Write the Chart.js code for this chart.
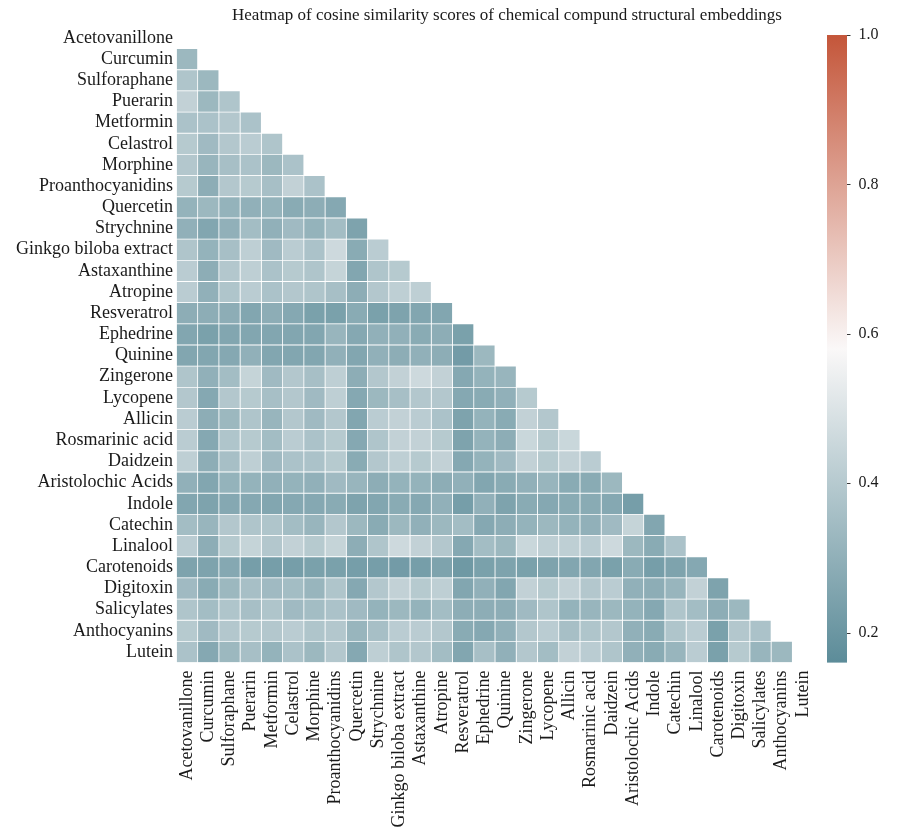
<!DOCTYPE html>
<html>
<head>
<meta charset="utf-8">
<script src="https://cdn.jsdelivr.net/npm/chart.js@4.4.1/dist/chart.umd.min.js"></script>
<style>
  html, body { margin: 0; padding: 0; background: #ffffff; }
  #wrap { width: 911px; height: 835px; }
</style>
</head>
<body>
<div id="wrap"><canvas id="heat" width="911" height="835"></canvas></div>
<script>
// Compound names (rows top-to-bottom, columns left-to-right)
const compounds = [
  "Acetovanillone", "Curcumin", "Sulforaphane", "Puerarin", "Metformin",
  "Celastrol", "Morphine", "Proanthocyanidins", "Quercetin", "Strychnine",
  "Ginkgo biloba extract", "Astaxanthine", "Atropine", "Resveratrol", "Ephedrine",
  "Quinine", "Zingerone", "Lycopene", "Allicin", "Rosmarinic acid",
  "Daidzein", "Aristolochic Acids", "Indole", "Catechin", "Linalool",
  "Carotenoids", "Digitoxin", "Salicylates", "Anthocyanins", "Lutein"
];

// Lower-triangle cosine similarities: each row holds the scores
// against the compounds listed before it.
const simCurcumin          = [0.33];
const simSulforaphane      = [0.38, 0.33];
const simPuerarin          = [0.43, 0.33, 0.38];
const simMetformin         = [0.37, 0.37, 0.39, 0.37];
const simCelastrol         = [0.40, 0.34, 0.39, 0.41, 0.38];
const simMorphine          = [0.39, 0.32, 0.36, 0.37, 0.33, 0.37];
const simProanthocyanidins = [0.40, 0.29, 0.39, 0.40, 0.36, 0.43, 0.37];
const simQuercetin         = [0.31, 0.33, 0.31, 0.30, 0.31, 0.28, 0.29, 0.27];
const simStrychnine        = [0.30, 0.26, 0.30, 0.35, 0.30, 0.34, 0.31, 0.35, 0.25];
const simGinkgo            = [0.38, 0.31, 0.36, 0.42, 0.34, 0.41, 0.37, 0.46, 0.28, 0.41];
const simAstaxanthine      = [0.41, 0.29, 0.39, 0.42, 0.37, 0.40, 0.38, 0.44, 0.26, 0.38, 0.40];
const simAtropine          = [0.41, 0.30, 0.38, 0.41, 0.37, 0.39, 0.38, 0.36, 0.29, 0.39, 0.42, 0.42];
const simResveratrol       = [0.29, 0.29, 0.29, 0.26, 0.29, 0.27, 0.24, 0.24, 0.28, 0.24, 0.25, 0.26, 0.26];
const simEphedrine         = [0.26, 0.24, 0.26, 0.26, 0.26, 0.26, 0.26, 0.32, 0.27, 0.30, 0.30, 0.28, 0.29, 0.24];
const simQuinine           = [0.26, 0.26, 0.27, 0.30, 0.26, 0.26, 0.26, 0.30, 0.26, 0.30, 0.29, 0.30, 0.29, 0.22, 0.33];
const simZingerone         = [0.38, 0.30, 0.35, 0.44, 0.34, 0.39, 0.36, 0.42, 0.29, 0.39, 0.43, 0.46, 0.43, 0.27, 0.31, 0.32];
const simLycopene          = [0.39, 0.27, 0.39, 0.40, 0.36, 0.39, 0.34, 0.42, 0.27, 0.33, 0.36, 0.39, 0.39, 0.27, 0.28, 0.30, 0.40];
const simAllicin           = [0.41, 0.29, 0.33, 0.38, 0.32, 0.39, 0.34, 0.39, 0.26, 0.41, 0.43, 0.41, 0.37, 0.25, 0.31, 0.28, 0.43, 0.39];
const simRosmarinicAcid    = [0.41, 0.27, 0.38, 0.40, 0.35, 0.41, 0.37, 0.40, 0.27, 0.38, 0.43, 0.43, 0.40, 0.25, 0.31, 0.29, 0.45, 0.40, 0.45];
const simDaidzein          = [0.42, 0.29, 0.36, 0.42, 0.34, 0.37, 0.37, 0.40, 0.28, 0.39, 0.42, 0.40, 0.43, 0.27, 0.31, 0.34, 0.43, 0.40, 0.43, 0.41];
const simAristolochic      = [0.30, 0.26, 0.31, 0.31, 0.30, 0.31, 0.30, 0.34, 0.32, 0.29, 0.31, 0.31, 0.29, 0.30, 0.26, 0.28, 0.30, 0.32, 0.28, 0.28, 0.33];
const simIndole            = [0.26, 0.25, 0.27, 0.27, 0.26, 0.27, 0.27, 0.28, 0.25, 0.26, 0.28, 0.27, 0.30, 0.23, 0.30, 0.25, 0.28, 0.27, 0.28, 0.28, 0.27, 0.23];
const simCatechin          = [0.35, 0.32, 0.39, 0.38, 0.38, 0.35, 0.32, 0.39, 0.33, 0.28, 0.33, 0.30, 0.33, 0.35, 0.27, 0.29, 0.31, 0.33, 0.31, 0.30, 0.34, 0.44, 0.26];
const simLinalool          = [0.41, 0.29, 0.40, 0.44, 0.39, 0.43, 0.40, 0.44, 0.29, 0.38, 0.46, 0.43, 0.39, 0.27, 0.35, 0.33, 0.45, 0.42, 0.42, 0.41, 0.46, 0.33, 0.28, 0.37];
const simCarotenoids       = [0.25, 0.25, 0.27, 0.23, 0.23, 0.23, 0.24, 0.24, 0.23, 0.23, 0.22, 0.23, 0.25, 0.21, 0.24, 0.25, 0.24, 0.25, 0.26, 0.26, 0.24, 0.28, 0.23, 0.25, 0.27];
const simDigitoxin         = [0.34, 0.28, 0.33, 0.36, 0.34, 0.35, 0.32, 0.38, 0.27, 0.39, 0.43, 0.40, 0.42, 0.26, 0.30, 0.26, 0.43, 0.40, 0.43, 0.39, 0.41, 0.30, 0.29, 0.32, 0.43, 0.25];
const simSalicylates       = [0.38, 0.35, 0.38, 0.36, 0.38, 0.34, 0.35, 0.37, 0.34, 0.31, 0.33, 0.31, 0.35, 0.29, 0.29, 0.29, 0.34, 0.38, 0.31, 0.32, 0.33, 0.31, 0.27, 0.38, 0.35, 0.29, 0.33];
const simAnthocyanins      = [0.40, 0.34, 0.39, 0.40, 0.39, 0.41, 0.38, 0.39, 0.32, 0.36, 0.41, 0.41, 0.39, 0.28, 0.27, 0.30, 0.39, 0.41, 0.36, 0.38, 0.39, 0.30, 0.28, 0.38, 0.41, 0.24, 0.39, 0.37];
const simLutein            = [0.37, 0.27, 0.33, 0.36, 0.31, 0.37, 0.33, 0.39, 0.27, 0.42, 0.38, 0.39, 0.35, 0.26, 0.36, 0.30, 0.39, 0.35, 0.43, 0.41, 0.38, 0.30, 0.28, 0.32, 0.41, 0.24, 0.40, 0.32, 0.33];

// Colour bar range and tick labels
const colorMin = 0.16;
const colorMax = 1.0;
const colorbarTicks = [0.2, 0.4, 0.6, 0.8, 1.0];

const lowerRows = [
  [], simCurcumin, simSulforaphane, simPuerarin, simMetformin, simCelastrol,
  simMorphine, simProanthocyanidins, simQuercetin, simStrychnine, simGinkgo,
  simAstaxanthine, simAtropine, simResveratrol, simEphedrine, simQuinine,
  simZingerone, simLycopene, simAllicin, simRosmarinicAcid, simDaidzein,
  simAristolochic, simIndole, simCatechin, simLinalool, simCarotenoids,
  simDigitoxin, simSalicylates, simAnthocyanins, simLutein
];

// Diverging teal -> near white -> rust palette
const LOW = [92, 140, 153], MID = [250, 248, 248], HIGH = [196, 86, 58];
function mix(a, b, t) {
  return a.map((c, k) => Math.round(c + (b[k] - c) * t));
}
function colorFor(v) {
  let t = (v - colorMin) / (colorMax - colorMin);
  t = Math.max(0, Math.min(1, t));
  const c = t < 0.5 ? mix(LOW, MID, t / 0.5) : mix(MID, HIGH, (t - 0.5) / 0.5);
  return `rgb(${c[0]},${c[1]},${c[2]})`;
}

// One floating-bar dataset per column; each bar spans [col, col + 1]
const datasets = compounds.slice(0, compounds.length - 1).map((name, col) => ({
  label: name,
  data: compounds.map((_, row) => (row > col ? [col, col + 1] : null)),
  backgroundColor: compounds.map((_, row) => (row > col ? colorFor(lowerRows[row][col]) : 'rgba(0,0,0,0)')),
  borderColor: '#ffffff',
  borderWidth: 0.75,
  borderSkipped: false,
  grouped: false,
  barPercentage: 1,
  categoryPercentage: 1
}));

const SERIF = "'Liberation Serif', 'Times New Roman', serif";
const TEXT = '#1a1a1a';
const CBAR_GAP = 13.4, CBAR_W = 20;

// Draws the gradient colour bar alongside the right-hand value axis
const colorbarPlugin = {
  id: 'colorbar',
  afterLayout(chart) {
    // nudge the title so it sits over the heatmap as in the layout
    if (chart.titleBlock) {
      chart.titleBlock.left += 12;
      chart.titleBlock.right += 12;
    }
  },
  afterDraw(chart) {
    const s = chart.scales.cbar;
    const area = chart.chartArea;
    const ctx = chart.ctx;
    const x0 = area.right + CBAR_GAP;
    const yTop = s.getPixelForValue(colorMax);
    const yBot = s.getPixelForValue(colorMin);
    const g = ctx.createLinearGradient(0, yBot, 0, yTop);
    g.addColorStop(0, `rgb(${LOW.join(',')})`);
    g.addColorStop(0.5, `rgb(${MID.join(',')})`);
    g.addColorStop(1, `rgb(${HIGH.join(',')})`);
    ctx.save();
    ctx.fillStyle = g;
    ctx.fillRect(x0, yTop, CBAR_W, yBot - yTop);
    ctx.strokeStyle = '#222';
    ctx.lineWidth = 0.9;
    colorbarTicks.forEach(v => {
      const y = Math.round(s.getPixelForValue(v)) + 0.5;
      ctx.beginPath();
      ctx.moveTo(x0 + CBAR_W, y);
      ctx.lineTo(x0 + CBAR_W + 3.5, y);
      ctx.stroke();
    });
    ctx.restore();
  }
};

new Chart(document.getElementById('heat'), {
  type: 'bar',
  data: { labels: compounds, datasets },
  plugins: [colorbarPlugin],
  options: {
    indexAxis: 'y',
    responsive: false,
    animation: false,
    devicePixelRatio: 1,
    layout: { padding: { left: 0, right: 0, top: 0, bottom: 0 } },
    plugins: {
      legend: { display: false },
      tooltip: { enabled: false },
      title: {
        display: true,
        text: 'Heatmap of cosine similarity scores of chemical compund structural embeddings',
        fullSize: false,
        color: TEXT,
        font: { family: SERIF, size: 17, weight: 'normal', lineHeight: 1.2 },
        padding: { top: 5, bottom: 2 }
      }
    },
    scales: {
      y: {
        type: 'category',
        offset: true,
        grid: { display: false, drawTicks: false },
        border: { display: false },
        ticks: { autoSkip: false, padding: 3.5, color: TEXT, font: { family: SERIF, size: 18 } },
        afterFit(scale) { scale.width = 176.4; }
      },
      x: {
        type: 'linear',
        min: 0,
        max: compounds.length,
        grid: { display: false, drawTicks: false },
        border: { display: false },
        afterBuildTicks(scale) {
          scale.ticks = compounds.map((_, i) => ({ value: i + 0.5 }));
        },
        ticks: {
          autoSkip: false,
          minRotation: 90,
          maxRotation: 90,
          padding: 8,
          color: TEXT,
          font: { family: SERIF, size: 18 },
          callback: (v) => compounds[Math.floor(v)]
        },
        afterFit(scale) { scale.height = 172.4; }
      },
      cbar: {
        type: 'linear',
        position: 'right',
        offset: false,
        min: 0.16,
        max: 1.0102,
        grid: { display: true, drawOnChartArea: false, drawTicks: true, tickLength: 43, color: 'rgba(0,0,0,0)' },
        border: { display: false },
        afterBuildTicks(scale) {
          scale.ticks = colorbarTicks.map(v => ({ value: v }));
        },
        ticks: {
          padding: 2,
          color: TEXT,
          font: { family: SERIF, size: 16 },
          callback: (v) => v.toFixed(1)
        },
        afterFit(scale) { scale.width = 97.4; }
      }
    }
  }
});
</script>
</body>
</html>
